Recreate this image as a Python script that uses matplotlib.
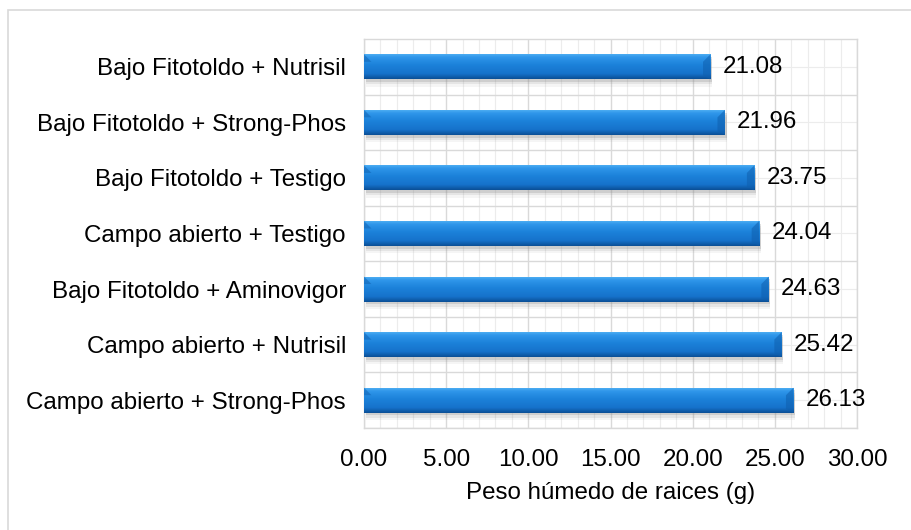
import matplotlib.pyplot as plt
import matplotlib.patches as mpatches
from matplotlib.colors import LinearSegmentedColormap
import numpy as np

plt.rcParams['font.family'] = ['Liberation Sans', 'DejaVu Sans']

# data (top to bottom as in the chart)
tratamientos = ['Bajo Fitotoldo + Nutrisil',
                'Bajo Fitotoldo + Strong-Phos',
                'Bajo Fitotoldo + Testigo',
                'Campo abierto + Testigo',
                'Bajo Fitotoldo + Aminovigor',
                'Campo abierto + Nutrisil',
                'Campo abierto + Strong-Phos']
peso = [21.08, 21.96, 23.75, 24.04, 24.63, 25.42, 26.13]
xticks = [0, 5, 10, 15, 20, 25, 30]

FS = 17.4

fig = plt.figure(figsize=(9.11, 5.30), dpi=100)
ax = fig.add_axes([0.3996, 0.1925, 0.5411, 0.7339])

# outer chart border
fig.add_artist(mpatches.Rectangle((8 / 911, -0.1), 1.2, 1 - 10 / 530 + 0.1,
                                  transform=fig.transFigure, fill=False,
                                  edgecolor='#d9d9d9', linewidth=1.2))

y = np.arange(len(tratamientos))
h = 0.45

# soft shadows under the bars
for k, a in [(0.05, 0.25), (0.09, 0.15), (0.13, 0.08)]:
    ax.barh(y + k, peso, height=h, left=0.1, color='#8a8a8a', alpha=a,
            zorder=2, linewidth=0)
bars = ax.barh(y, peso, height=h, color='#1c80d8', zorder=3, linewidth=0)

# gradient fill for the bars
cmap = LinearSegmentedColormap.from_list(
    'bar', [(0.0, '#56b4f4'), (0.15, '#2f96ea'), (0.45, '#1c82da'),
            (0.8, '#1672cb'), (1.0, '#0b4f96')])
grad = np.linspace(0, 1, 64).reshape(-1, 1)
for b in bars:
    x0, y0 = b.get_x(), b.get_y()
    w, hh = b.get_width(), b.get_height()
    im = ax.imshow(grad, cmap=cmap, aspect='auto', zorder=4,
                   extent=(x0, x0 + w, y0 + hh, y0), interpolation='bilinear')
    im.set_clip_path(b)
    # bevelled ends
    ax.add_patch(mpatches.Polygon([(x0 + w - 0.45, y0 + hh * 0.3), (x0 + w, y0),
                                   (x0 + w, y0 + hh), (x0 + w - 0.45, y0 + hh * 0.85)],
                                  closed=True, color='#0f5fae', alpha=0.55,
                                  zorder=5, linewidth=0))
    ax.add_patch(mpatches.Polygon([(x0, y0), (x0 + 0.45, y0 + hh * 0.3),
                                   (x0, y0 + hh * 0.3)],
                                  closed=True, color='#0f5fae', alpha=0.5,
                                  zorder=5, linewidth=0))

for yi, v in zip(y, peso):
    ax.text(v + 0.75, yi, f'{v:.2f}', va='center', ha='left', fontsize=FS,
            color='#000000', zorder=6)

ax.set_xlim(0, 30)
ax.set_ylim(len(tratamientos) - 0.5, -0.5)
ax.set_xticks(xticks)
ax.set_xticklabels([f'{t:.2f}' for t in xticks], fontsize=FS)
ax.set_xticks(np.arange(0, 31, 1), minor=True)
ax.set_yticks(y)
ax.set_yticklabels(tratamientos, fontsize=FS)
ax.set_yticks(y + 0.5, minor=True)

ax.grid(which='major', axis='x', color='#d9d9d9', linewidth=1.0, zorder=0)
ax.grid(which='minor', axis='x', color='#ececec', linewidth=0.8, zorder=0)
ax.grid(which='minor', axis='y', color='#d9d9d9', linewidth=1.0, zorder=0)
for yi in y:
    ax.axhline(yi, color='#ececec', linewidth=0.8, zorder=0)
ax.set_axisbelow(True)

ax.tick_params(axis='both', which='both', length=0)
ax.tick_params(axis='x', pad=15)
ax.tick_params(axis='y', pad=13)
for s in ax.spines.values():
    s.set_color('#d9d9d9')
    s.set_linewidth(1.0)

ax.set_xlabel('Peso húmedo de raices (g)', fontsize=FS, labelpad=8)

fig.savefig('out.png', dpi=100)
